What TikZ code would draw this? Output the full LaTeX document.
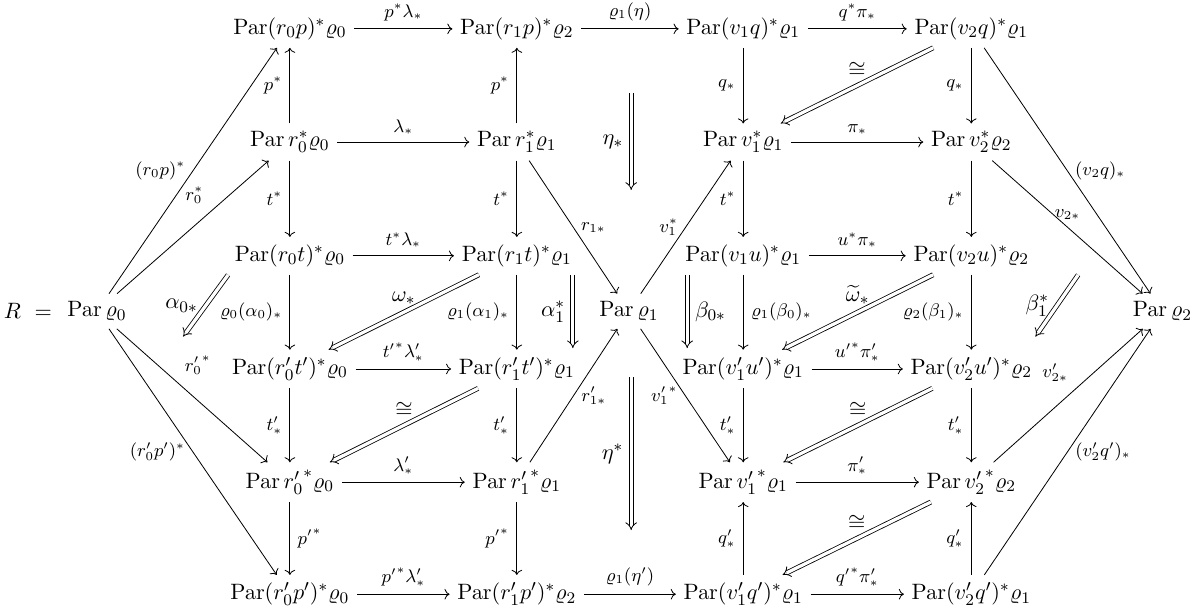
\documentclass[tikz,border=0pt,11pt]{standalone}
\usepackage{amsmath, amssymb}
\usepackage{tikz}
\usetikzlibrary{arrows.meta, positioning}
\tikzset{
  arr/.style={->},
  lbl/.style={font=\footnotesize},
  cell/.style={-{Implies}, double, double distance=1.6pt},
}

\begin{document}
\begin{tikzpicture}[>=To]
    \useasboundingbox (-1.68,0.50) rectangle (19.17,-10.13);

    % rows of the diagram
    \node (A1) at (3.34,  0)    {$\operatorname{Par}(r_0p)^*\varrho_0$};
    \node (A2) at (7.27,  0)    {$\operatorname{Par}(r_1p)^*\varrho_2$};
    \node (A3) at (11.19, 0)    {$\operatorname{Par}(v_1q)^*\varrho_1$};
    \node (A4) at (15.14, 0)    {$\operatorname{Par}(v_2q)^*\varrho_1$};

    \node (B1) at (3.34,  -1.96) {$\operatorname{Par} r_0^*\varrho_0$};
    \node (B2) at (7.27,  -1.96) {$\operatorname{Par} r_1^*\varrho_1$};
    \node (B3) at (11.19, -1.96) {$\operatorname{Par} v_1^*\varrho_1$};
    \node (B4) at (15.14, -1.96) {$\operatorname{Par} v_2^*\varrho_2$};

    \node (C1) at (3.34,  -3.93) {$\operatorname{Par}(r_0t)^*\varrho_0$};
    \node (C2) at (7.27,  -3.93) {$\operatorname{Par}(r_1t)^*\varrho_1$};
    \node (C3) at (11.19, -3.93) {$\operatorname{Par}(v_1u)^*\varrho_1$};
    \node (C4) at (15.14, -3.93) {$\operatorname{Par}(v_2u)^*\varrho_2$};

    \node (P0) at (0,     -4.89) {$\operatorname{Par}\varrho_0$};
    \node (P1) at (9.21,  -4.89) {$\operatorname{Par}\varrho_1$};
    \node (P2) at (18.45, -4.89) {$\operatorname{Par}\varrho_2$};
    \node[left=0pt of P0] (R) {$R\ =$};

    \node (D1) at (3.34,  -5.89) {$\operatorname{Par}(r'_0t')^*\varrho_0$};
    \node (D2) at (7.27,  -5.89) {$\operatorname{Par}(r'_1t')^*\varrho_1$};
    \node (D3) at (11.19, -5.89) {$\operatorname{Par}(v'_1u')^*\varrho_1$};
    \node (D4) at (15.14, -5.89) {$\operatorname{Par}(v'_2u')^*\varrho_2$};

    \node (E1) at (3.34,  -7.85) {$\operatorname{Par} {r'_0}^*\varrho_0$};
    \node (E2) at (7.27,  -7.85) {$\operatorname{Par} {r'_1}^*\varrho_1$};
    \node (E3) at (11.19, -7.85) {$\operatorname{Par} {v'_1}^*\varrho_1$};
    \node (E4) at (15.14, -7.85) {$\operatorname{Par} {v'_2}^*\varrho_2$};

    \node (F1) at (3.34,  -9.79) {$\operatorname{Par}(r'_0p')^*\varrho_0$};
    \node (F2) at (7.27,  -9.79) {$\operatorname{Par}(r'_1p')^*\varrho_2$};
    \node (F3) at (11.19, -9.79) {$\operatorname{Par}(v'_1q')^*\varrho_1$};
    \node (F4) at (15.14, -9.79) {$\operatorname{Par}(v'_2q')^*\varrho_1$};

    % ends of the free 2-cells
    \coordinate (etaA)   at (9.25,  -1.11);
    \coordinate (etaB)   at (9.25,  -2.79);
    \coordinate (etaC)   at (9.25,  -6.03);
    \coordinate (etaD)   at (9.25,  -8.68);
    \coordinate (alphaA) at (2.27,  -4.26);
    \coordinate (alphaB) at (1.49,  -5.33);
    \coordinate (alphC)  at (8.24,  -4.26);
    \coordinate (alphD)  at (8.24,  -5.53);
    \coordinate (betaA)  at (10.22, -4.26);
    \coordinate (betaB)  at (10.22, -5.53);
    \coordinate (betC)   at (16.99, -4.26);
    \coordinate (betD)   at (16.25, -5.33);

    % horizontal arrows
    \draw[arr] (A1) -- node[lbl, above] {$p^*\lambda_*$} (A2);
    \draw[arr] (A2) -- node[lbl, above] {$\varrho_1(\eta)$} (A3);
    \draw[arr] (A3) -- node[lbl, above] {$q^*\pi_*$} (A4);
    \draw[arr] (B1) -- node[lbl, above] {$\lambda_*$} (B2);
    \draw[arr] (B3) -- node[lbl, above] {$\pi_*$} (B4);
    \draw[arr] (C1) -- node[lbl, above] {$t^*\lambda_*$} (C2);
    \draw[arr] (C3) -- node[lbl, above] {$u^*\pi_*$} (C4);
    \draw[arr] (D1) -- node[lbl, above] {${t'}^*\lambda'_*$} (D2);
    \draw[arr] (D3) -- node[lbl, above] {${u'}^*\pi'_*$} (D4);
    \draw[arr] (E1) -- node[lbl, above] {$\lambda'_*$} (E2);
    \draw[arr] (E3) -- node[lbl, above] {$\pi'_*$} (E4);
    \draw[arr] (F1) -- node[lbl, above] {${p'}^*\lambda'_*$} (F2);
    \draw[arr] (F2) -- node[lbl, above] {$\varrho_1(\eta')$} (F3);
    \draw[arr] (F3) -- node[lbl, above] {${q'}^*\pi'_*$} (F4);

    % vertical arrows
    \draw[arr] (B1) -- node[lbl, left] {$p^*$} (A1);
    \draw[arr] (B1) -- node[lbl, left] {$t^*$} (C1);
    \draw[arr] (C1) -- node[lbl, left] {$\varrho_0(\alpha_0)_*$} (D1);
    \draw[arr] (D1) -- node[lbl, left] {$t'_*$} (E1);
    \draw[arr] (E1) -- node[lbl, right] {${p'}^*$} (F1);
    \draw[arr] (B2) -- node[lbl, left] {$p^*$} (A2);
    \draw[arr] (B2) -- node[lbl, left] {$t^*$} (C2);
    \draw[arr] (C2) -- node[lbl, left] {$\varrho_1(\alpha_1)_*$} (D2);
    \draw[arr] (D2) -- node[lbl, left] {$t'_*$} (E2);
    \draw[arr] (E2) -- node[lbl, left] {${p'}^*$} (F2);
    \draw[arr] (A3) -- node[lbl, left] {$q_*$} (B3);
    \draw[arr] (B3) -- node[lbl, left] {$t^*$} (C3);
    \draw[arr] (C3) -- node[lbl, right] {$\varrho_1(\beta_0)_*$} (D3);
    \draw[arr] (D3) -- node[lbl, left] {$t'_*$} (E3);
    \draw[arr] (F3) -- node[lbl, left] {$q'_*$} (E3);
    \draw[arr] (A4) -- node[lbl, left] {$q_*$} (B4);
    \draw[arr] (B4) -- node[lbl, left] {$t^*$} (C4);
    \draw[arr] (C4) -- node[lbl, left] {$\varrho_2(\beta_1)_*$} (D4);
    \draw[arr] (D4) -- node[lbl, left] {$t'_*$} (E4);
    \draw[arr] (F4) -- node[lbl, left] {$q'_*$} (E4);

    % diagonal arrows
    \draw[arr] (P0) -- node[lbl, midway, left] {$(r_0p)^*$} (A1);
    \draw[arr] (P0) -- node[lbl, pos=0.62, above left] {$r_0^*$} (B1);
    \draw[arr] (P0) -- node[lbl, pos=0.4, above right] {${r'_0}^*$} (E1);
    \draw[arr] (P0) -- node[lbl, midway, left] {$(r'_0p')^*$} (F1);
    \draw[arr] (B2) -- node[lbl, midway, right] {$r_{1*}$} (P1);
    \draw[arr] (E2) -- node[lbl, midway, right] {$r'_{1*}$} (P1);
    \draw[arr] (P1) -- node[lbl, midway, left] {$v_1^*$} (B3);
    \draw[arr] (P1) -- node[lbl, midway, left] {${v'_1}^*$} (E3);
    \draw[arr] (A4) -- node[lbl, midway, right] {$(v_2q)_*$} (P2);
    \draw[arr] (B4) -- node[lbl, pos=0.5, above] {$v_{2*}$} (P2);
    \draw[arr] (E4) -- node[lbl, pos=0.55, above left] {$v'_{2*}$} (P2);
    \draw[arr] (F4) -- node[lbl, midway, right] {$(v'_2q')_*$} (P2);

    % 2-cells
    \draw[cell] (etaA) -- node[left] {$\eta_*$} (etaB);
    \draw[cell] (etaC) -- node[left] {$\eta^*$} (etaD);
    \draw[cell] (alphaA) -- node[left] {$\alpha_{0*}$} (alphaB);
    \draw[cell] (alphC) -- node[left] {$\alpha_1^*$} (alphD);
    \draw[cell] (betaA) -- node[right] {$\beta_{0*}$} (betaB);
    \draw[cell] (betC) -- node[left] {$\beta_1^*$} (betD);
    \draw[cell] (C2) -- node[above] {$\omega_*$} (D1);
    \draw[cell] (C4) -- node[above] {$\widetilde{\omega}_*$} (D3);
    \draw[cell] (A4) -- node[above] {$\cong$} (B3);
    \draw[cell] (D2) -- node[above] {$\cong$} (E1);
    \draw[cell] (D4) -- node[above] {$\cong$} (E3);
    \draw[cell] (E4) -- node[above] {$\cong$} (F3);
\end{tikzpicture}
\end{document}
